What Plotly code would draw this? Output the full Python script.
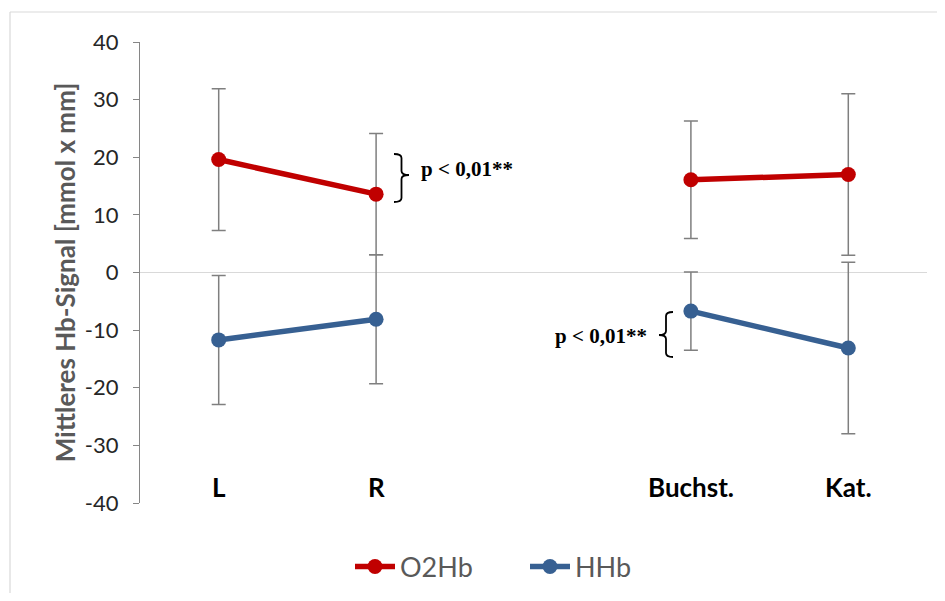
import plotly.graph_objects as go

# ---- data ----
x_labels = ["L", "R", "", "Buchst.", "Kat."]
x_pos = [0, 1, 2, 3, 4]          # index 2 is the empty gap category

o2hb_mean = [19.6, 13.6, None, 16.1, 17.0]
o2hb_err = [12.3, 10.5, None, 10.2, 14.0]

hhb_mean = [-11.7, -8.1, None, -6.7, -13.1]
hhb_err = [11.2, 11.2, None, 6.8, 14.9]

y_ticks = [-40, -30, -20, -10, 0, 10, 20, 30, 40]
y_ticktext = ["-40", "-30", "-20", "-10", "0", "10", "20", "30", "40"]

# ---- layout geometry ----
OFF = 8                      # browser body margin
W, H = 945 - 2 * OFF, 601 - 2 * OFF
# plot area in page px: x 140..927, y 42..503
ML = 140 - OFF
MT = 42 - OFF
MR = W - (927 - OFF)
MB = H - (503 - OFF)
PW = W - ML - MR
PH = H - MT - MB
XR = [-0.5, 4.5]
YR = [-40, 40]


def px_x(p):                 # page px -> data x
    return XR[0] + (p - OFF - ML) / PW * (XR[1] - XR[0])


def px_y(p):                 # page px -> data y
    return YR[1] - (p - OFF - MT) / PH * (YR[1] - YR[0])


def paper_x(p):
    return (p - OFF - ML) / PW


def paper_y(p):
    return (H - MB - (p - OFF)) / PH


RED = "#C00000"
BLUE = "#376092"
ERR = "#7F7F7F"
FONT = "Lato, Open Sans, sans-serif"

fig = go.Figure()
for name, mean, err, col in [("O2Hb", o2hb_mean, o2hb_err, RED),
                             ("HHb", hhb_mean, hhb_err, BLUE)]:
    fig.add_trace(go.Scatter(
        x=x_pos, y=mean, name=name, mode="lines+markers",
        connectgaps=False,
        line=dict(color=col, width=5.5),
        marker=dict(color=col, size=15),
        error_y=dict(type="data", array=[e if e is not None else 0 for e in err],
                     visible=True, color=ERR, thickness=1.5, width=7),
    ))

# category labels placed low inside the plot area
for xp, lab in zip(x_pos, x_labels):
    if lab:
        fig.add_annotation(x=xp, y=px_y(487), text=f"<b>{lab}</b>", showarrow=False,
                           font=dict(family=FONT, size=26, color="#000000"),
                           xanchor="center", yanchor="middle")


def brace(x_base, x_tip, top, bottom, mid):
    dx = x_tip - x_base
    xb = px_x(x_base)
    xm = px_x(x_base + dx * 0.5)
    xt = px_x(x_tip)
    r = 4
    return (
        f"M {xb},{px_y(top)} "
        f"Q {xm},{px_y(top)} {xm},{px_y(top + r)} "
        f"L {xm},{px_y(mid - r)} "
        f"Q {xm},{px_y(mid)} {xt},{px_y(mid)} "
        f"Q {xm},{px_y(mid)} {xm},{px_y(mid + r)} "
        f"L {xm},{px_y(bottom - r)} "
        f"Q {xm},{px_y(bottom)} {xb},{px_y(bottom)}"
    )


fig.add_shape(type="path", path=brace(394, 409, 154, 202, 175),
              xref="x", yref="y", line=dict(color="#000000", width=1.8))
fig.add_shape(type="path", path=brace(673, 659, 312, 357, 335),
              xref="x", yref="y", line=dict(color="#000000", width=1.8))

pfont = dict(family="Liberation Serif, Times New Roman, serif", size=21, color="#000000")
fig.add_annotation(x=px_x(419), y=px_y(169), text="<b>p &lt; 0,01**</b>", showarrow=False,
                   xanchor="left", yanchor="middle", font=pfont)
fig.add_annotation(x=px_x(649), y=px_y(336), text="<b>p &lt; 0,01**</b>", showarrow=False,
                   xanchor="right", yanchor="middle", font=pfont)

# chart-area border (top & left visible)
border = "#D9D9D9"
fig.add_shape(type="line", xref="paper", yref="paper",
              x0=paper_x(10), x1=paper_x(960), y0=paper_y(12), y1=paper_y(12),
              line=dict(color=border, width=1.2))
fig.add_shape(type="line", xref="paper", yref="paper",
              x0=paper_x(10), x1=paper_x(10), y0=paper_y(12), y1=paper_y(620),
              line=dict(color=border, width=1.2))

fig.update_layout(
    width=W, height=H,
    margin=dict(l=ML, r=MR, t=MT, b=MB, autoexpand=False),
    paper_bgcolor="white", plot_bgcolor="white",
    font=dict(family=FONT, color="#404040"),
    showlegend=True,
    legend=dict(orientation="h", x=paper_x(350), xanchor="left",
                y=paper_y(567), yanchor="middle", entrywidth=120,
                font=dict(size=27, color="#595959"), itemwidth=40),
    xaxis=dict(range=XR, showgrid=False, zeroline=False, showline=False,
               showticklabels=False, ticks="", automargin=False),
    yaxis=dict(range=YR, tickvals=y_ticks, ticktext=y_ticktext, showgrid=False,
               automargin=False,
               zeroline=True, zerolinecolor="#D9D9D9", zerolinewidth=1.2,
               showline=True, linecolor="#868686", linewidth=1.2,
               ticks="outside", ticklen=6, tickcolor="#868686", tickwidth=1.2,
               ticklabelstandoff=10,
               tickfont=dict(size=22, color="#262626"),
               title=dict(text="<b>Mittleres Hb-Signal [mmol x mm]</b>",
                          font=dict(size=26, color="#595959", weight="bold"),
                          standoff=1)),
)

fig.write_html("out.html")
